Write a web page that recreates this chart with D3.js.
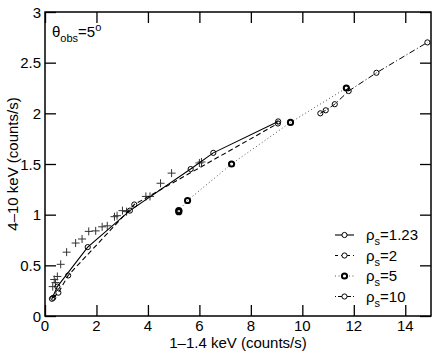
<!DOCTYPE html>
<meta charset="utf-8">
<style>
body { margin: 0; background: #fff; }
text { font-family: "Liberation Sans", Arial, sans-serif; fill: #000; }
</style>
<svg width="436" height="352"></svg>
<script src="https://d3js.org/d3.v7.min.js"></script>
<script>

// model curves, [x (1-1.4 keV), y (4-10 keV)]
var rho123 = [[0.27,0.17],[0.48,0.29],[1.66,0.68],[3.30,1.04],[5.66,1.45],[6.54,1.61],[9.06,1.92]];
var rho2   = [[0.32,0.18],[0.52,0.23],[0.90,0.40],[3.47,1.10],[9.05,1.90]];
var rho5   = [[5.20,1.03],[5.20,1.04],[5.54,1.14],[7.25,1.50],[9.54,1.91],[11.71,2.25]];
var rho10  = [[10.70,2.00],[10.91,2.03],[11.26,2.09],[11.80,2.22],[12.88,2.40],[14.86,2.70]];

// observed points (crosses)
var obs = [[0.30,0.29],[0.36,0.36],[0.41,0.33],[0.48,0.39],[0.61,0.51],[0.84,0.63],[1.19,0.72],
  [1.44,0.76],[1.70,0.835],[1.97,0.84],[2.22,0.88],[2.42,0.89],[2.70,0.98],[2.80,0.99],
  [3.01,1.04],[3.17,1.03],[3.92,1.18],[4.08,1.18],[4.49,1.31],[4.92,1.41],[6.00,1.51],[6.08,1.52]];

var xTicks = [0, 2, 4, 6, 8, 10, 12, 14];
var yTicks = [0, 0.5, 1, 1.5, 2, 2.5, 3];
var labels = ["1.23", "2", "5", "10"];

var series = [
  {data: rho123, name: labels[0], dash: null, sw: 1.1, cw: 1},
  {data: rho2, name: labels[1], dash: "5,3", sw: 1.1, cw: 1},
  {data: rho5, name: labels[2], dash: "1,2.5", sw: 1, cw: 2},
  {data: rho10, name: labels[3], dash: "6,2.5,1,2.5", sw: 1, cw: 1}
];

var svg = d3.select("svg"),
    mLeft = 45, mRight = 431, mTop = 12, mBottom = 316;

var x = d3.scaleLinear().domain([0, 15]).range([mLeft, mRight]),
    y = d3.scaleLinear().domain([0, 3]).range([mBottom, mTop]);

// frame
svg.append("rect")
    .attr("x", mLeft).attr("y", mTop)
    .attr("width", mRight - mLeft).attr("height", mBottom - mTop)
    .attr("fill", "none").attr("stroke", "#000").attr("stroke-width", 1.5);

// inward ticks on all sides
var tl = 11;
function noLine(g) { g.select(".domain").remove(); g.selectAll("line").attr("stroke-width", 1.3); }

svg.append("g").attr("transform", "translate(0," + mBottom + ")")
    .call(d3.axisTop(x).tickValues(xTicks).tickSize(tl).tickFormat(""))
    .call(noLine);
svg.append("g").attr("transform", "translate(0," + mTop + ")")
    .call(d3.axisBottom(x).tickValues(xTicks).tickSize(tl).tickFormat(""))
    .call(noLine);
svg.append("g").attr("transform", "translate(" + mLeft + ",0)")
    .call(d3.axisRight(y).tickValues(yTicks).tickSize(tl).tickFormat(""))
    .call(noLine);
svg.append("g").attr("transform", "translate(" + mRight + ",0)")
    .call(d3.axisLeft(y).tickValues(yTicks).tickSize(tl).tickFormat(""))
    .call(noLine);

// tick labels
svg.append("g").selectAll("text").data(xTicks).join("text")
    .attr("x", d => x(d)).attr("y", 331)
    .attr("text-anchor", "middle").attr("font-size", 15)
    .text(d => d);
svg.append("g").selectAll("text").data(yTicks).join("text")
    .attr("x", 41).attr("y", d => y(d) + 5.5)
    .attr("text-anchor", "end").attr("font-size", 15)
    .text(d => d);

// axis titles
svg.append("text")
    .attr("x", x(7.5)).attr("y", 348)
    .attr("text-anchor", "middle").attr("font-size", 15)
    .text("1\u20131.4 keV (counts/s)");
svg.append("text")
    .attr("transform", "translate(18," + ((mTop + mBottom) / 2) + ") rotate(-90)")
    .attr("text-anchor", "middle").attr("font-size", 15)
    .text("4\u201310 keV (counts/s)");

// annotation
var ann = svg.append("text").attr("x", 52).attr("y", 37).attr("font-size", 15);
ann.append("tspan").text("\u03b8");
ann.append("tspan").attr("dy", 5).attr("font-size", 11).text("obs");
ann.append("tspan").attr("dy", -5).text("=5");
ann.append("tspan").attr("dy", -6).attr("font-size", 11).text("o");

var line = d3.line().x(d => x(d[0])).y(d => y(d[1]));

// crosses
svg.append("g").selectAll("path").data(obs).join("path")
    .attr("d", d => "M" + (x(d[0]) - 4) + "," + y(d[1]) + "h8M" + x(d[0]) + "," + (y(d[1]) - 4) + "v8")
    .attr("stroke", "#333").attr("stroke-width", 1);

series.forEach(function(s) {
  svg.append("path").datum(s.data)
      .attr("d", line)
      .attr("fill", "none").attr("stroke", s.dash === "1,2.5" ? "#555" : "#000")
      .attr("stroke-width", s.sw)
      .attr("stroke-dasharray", s.dash);
  svg.append("g").selectAll("circle").data(s.data).join("circle")
      .attr("cx", d => x(d[0])).attr("cy", d => y(d[1])).attr("r", 2.6)
      .attr("fill", "none").attr("stroke", "#000").attr("stroke-width", s.cw);
});

// legend
var leg = svg.append("g").selectAll("g").data(series).join("g")
    .attr("transform", (d, i) => "translate(0," + (235 + i * 20.5) + ")");
leg.append("line")
    .attr("x1", 335).attr("x2", 354)
    .attr("stroke", d => d.dash === "1,2.5" ? "#555" : "#000")
    .attr("stroke-width", d => d.sw)
    .attr("stroke-dasharray", d => d.dash === "6,2.5,1,2.5" ? "1,2,4,2" : d.dash === "5,3" ? "3,3" : d.dash);
leg.append("circle")
    .attr("cx", 344.5).attr("r", 2.6)
    .attr("fill", "#fff").attr("stroke", "#000").attr("stroke-width", d => d.cw);
var lt = leg.append("text").attr("x", 366).attr("y", 5).attr("font-size", 15);
lt.append("tspan").text("\u03c1");
lt.append("tspan").attr("dy", 5).attr("font-size", 11).text("s");
lt.append("tspan").attr("dy", -5).text(d => "=" + d.name);

</script>
